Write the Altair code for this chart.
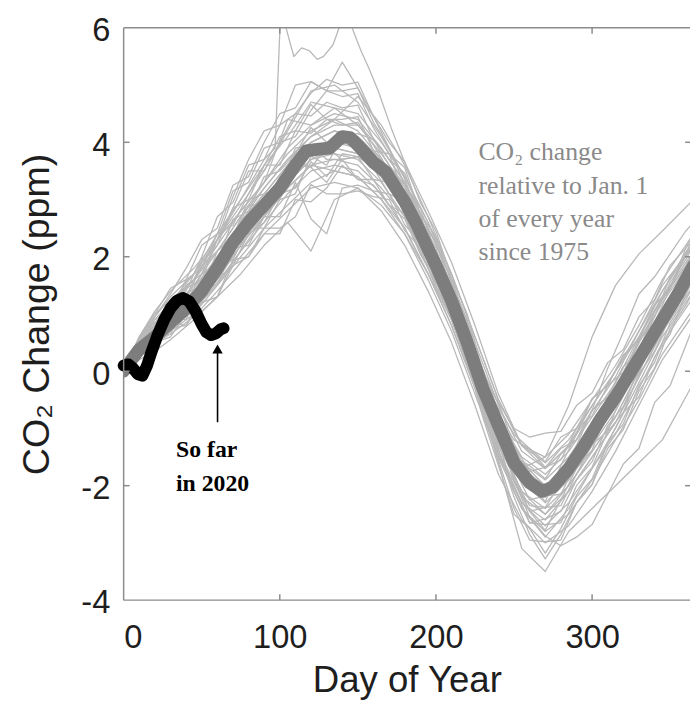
import altair as alt
import pandas as pd

# ---------------- data ----------------
# individual years, read every 15 days
days = [0, 10, 20, 30, 45, 60, 75, 90, 105, 120, 135, 150, 165, 180, 195,
        210, 225, 240, 255, 270, 285, 300, 315, 330, 345, 365]

g01 = [0, 0.55, 0.9, 1.2, 1.6, 2.2, 2.8, 3.3, 3.9, 4.3, 4.5, 4.4, 3.9, 3.3, 2.5, 1.6, 0.5, -0.6, -1.4, -1.7, -1.3, -0.7, -0.1, 0.7, 1.5, 2.2]
g02 = [0, 0.25, 0.45, 0.7, 1.0, 1.5, 2.0, 2.5, 2.9, 3.3, 3.5, 3.4, 3.0, 2.4, 1.6, 0.7, -0.4, -1.5, -2.3, -2.7, -2.3, -1.7, -1.1, -0.3, 0.5, 1.3]
g03 = [0, 0.6, 1.05, 1.4, 1.8, 2.3, 2.8, 3.3, 3.8, 4.2, 4.4, 4.2, 3.7, 3.1, 2.3, 1.4, 0.3, -0.8, -1.6, -1.9, -1.5, -0.9, -0.3, 0.5, 1.2, 2.0]
g04 = [0, 0.3, 0.5, 0.65, 0.95, 1.4, 1.9, 2.4, 2.8, 3.2, 3.3, 3.2, 2.8, 2.2, 1.4, 0.5, -0.6, -1.8, -2.6, -3.0, -2.7, -2.1, -1.4, -0.6, 0.2, 1.0]
g05 = [0, 0.45, 0.8, 1.15, 1.6, 2.3, 2.9, 3.5, 4.2, 4.9, 5.0, 4.7, 4.1, 3.4, 2.6, 1.7, 0.6, -0.5, -1.3, -1.6, -1.2, -0.6, 0.0, 0.7, 1.4, 2.2]
g06 = [0, 0.35, 0.6, 0.85, 1.2, 1.7, 2.3, 2.7, 3.2, 3.6, 3.7, 3.6, 3.2, 2.7, 1.9, 1.0, -0.1, -1.3, -2.1, -2.4, -2.0, -1.4, -0.8, 0.0, 0.8, 1.6]
g07 = [0, 0.5, 0.75, 1.0, 1.35, 1.9, 2.6, 3.1, 3.6, 4.0, 4.2, 4.1, 3.7, 3.1, 2.3, 1.3, 0.2, -0.9, -1.7, -2.0, -1.6, -1.0, -0.4, 0.4, 1.1, 1.9]
g08 = [0, 0.2, 0.35, 0.55, 0.9, 1.3, 1.7, 2.2, 2.6, 2.1, 3.0, 3.2, 2.9, 2.4, 1.7, 0.8, -0.3, -1.5, -2.4, -2.8, -2.5, -1.9, -1.2, -0.5, 0.3, 1.1]
g09 = [0, 0.45, 0.7, 0.95, 1.3, 1.85, 2.5, 3.0, 3.5, 3.9, 4.05, 3.9, 3.4, 2.8, 1.9, 1.0, -0.2, -1.6, -3.1, -3.5, -2.8, -2.4, -2.0, -1.6, -1.2, -0.2]
g10 = [0, 0.4, 0.6, 0.8, 1.1, 1.6, 2.2, 2.7, 3.3, 3.8, 3.9, 3.8, 3.4, 2.8, 2.0, 1.1, 0.0, -1.1, -1.9, -2.2, -1.9, -1.3, -0.7, 0.1, 0.9, 1.7]
g11 = [0, 0.5, 0.85, 1.1, 1.45, 2.0, 2.6, 3.1, 3.6, 4.0, 4.2, 4.0, 3.5, 2.9, 2.0, 1.1, 0.0, -1.0, -1.7, -1.5, -0.6, 0.6, 1.5, 2.05, 2.45, 3.0]
g12 = [0, 0.3, 0.55, 0.8, 1.15, 1.65, 2.2, 2.8, 3.3, 3.7, 3.8, 3.7, 3.3, 2.7, 1.8, 0.9, -0.2, -1.4, -2.3, -2.6, -2.1, -1.5, -0.9, -0.1, 0.7, 1.5]
g13 = [0, 0.55, 0.95, 1.3, 1.7, 2.4, 3.0, 3.6, 4.1, 4.7, 4.6, 4.3, 3.8, 3.2, 2.4, 1.4, 0.3, -0.8, -1.5, -1.8, -1.4, -0.8, -0.2, 0.6, 1.4, 2.3]
g14 = [0, 0.35, 0.5, 0.75, 1.05, 1.55, 2.1, 2.6, 3.1, 3.5, 3.6, 3.5, 3.1, 2.5, 1.7, 0.8, -0.3, -1.5, -2.4, -2.9, -2.4, -1.7, -1.0, -0.2, 0.6, 1.4]
g15 = [0, 0.45, 0.75, 1.0, 1.4, 2.0, 2.6, 3.2, 3.7, 4.1, 4.3, 4.3, 3.9, 3.3, 2.4, 1.4, 0.3, -0.9, -1.8, -2.2, -1.8, -1.2, -0.5, 0.3, 1.1, 2.0]
g16 = [0, 0.4, 0.65, 0.85, 1.2, 1.75, 2.35, 2.9, 3.4, 3.9, 4.0, 3.9, 3.5, 3.0, 2.2, 1.3, 0.2, -1.0, -1.9, -2.3, -1.9, -1.2, -0.6, 0.2, 1.0, 1.8]
g17 = [0, 0.6, 1.0, 1.25, 1.6, 2.1, 2.7, 3.2, 3.7, 4.1, 4.4, 4.8, 4.3, 3.6, 2.7, 1.7, 0.6, -0.5, -1.3, -1.5, -1.1, -0.5, 0.1, 0.8, 1.6, 2.4]
g18 = [0, 0.25, 0.5, 0.8, 1.1, 1.5, 2.1, 2.7, 3.2, 3.6, 3.5, 3.4, 3.0, 2.5, 1.7, 0.9, -0.2, -1.4, -2.2, -2.5, -2.0, -1.4, -0.8, 0.0, 0.8, 1.6]
g19 = [0, 0.5, 0.8, 1.05, 1.5, 2.1, 2.7, 3.3, 4.4, 4.3, 4.6, 4.5, 4.0, 3.4, 2.6, 1.6, 0.4, -0.7, -1.6, -2.0, -1.6, -1.0, -0.3, 0.5, 1.3, 2.1]
g20 = [0, 0.35, 0.55, 0.8, 1.15, 1.7, 2.3, 2.8, 3.3, 3.7, 3.9, 3.8, 3.4, 2.8, 1.9, 0.9, -0.2, -1.3, -2.1, -2.5, -2.1, -1.5, -0.9, -0.1, 0.7, 1.6]

# individual years, read every 10 days
days10 = [0, 10, 20, 30, 40, 50, 60, 70, 80, 90, 100, 110, 120, 130, 140, 150, 160, 170,
          180, 190, 200, 210, 220, 230, 240, 250, 260, 270, 280, 290, 300, 310, 320, 330,
          340, 350, 360, 365]

h01 = [0, 0.48, 0.9, 1.05, 1.6, 1.8, 2.4, 2.55, 3.1, 3.6, 3.6, 4.2, 4.16, 4.4, 4.3, 4.35, 3.95, 3.5, 3.26, 2.65, 2.25, 1.43, 0.8, -0.2, -0.65, -1.1, -1.35, -1.68, -1.35, -1.2, -0.68, -0.45, 0.08, 0.35, 0.95, 1.55, 1.95, 2.2]
h02 = [0, 0.28, 0.4, 0.75, 0.8, 1.2, 1.3, 1.85, 2.0, 2.4, 2.4, 3.0, 2.96, 3.2, 3.6, 3.35, 3.25, 2.9, 2.66, 2.05, 1.65, 0.93, 0.1, -0.6, -1.45, -2.0, -2.65, -2.68, -2.65, -2.0, -1.68, -1.05, -0.72, -0.05, 0.35, 0.95, 1.35, 1.6]
h03 = [0, 0.58, 1.0, 1.45, 1.6, 2.2, 2.4, 3.15, 3.3, 3.9, 4.0, 4.5, 4.46, 4.7, 4.6, 4.65, 4.05, 3.7, 3.46, 2.75, 2.25, 1.43, 0.6, -0.1, -0.55, -1.3, -1.75, -1.68, -1.55, -1.0, -0.78, -0.25, -0.02, 0.55, 0.85, 1.45, 2.05, 2.2]
h04 = [0, 0.38, 0.5, 0.95, 0.9, 1.5, 1.5, 2.15, 2.2, 2.7, 2.7, 3.3, 2.66, 2.4, 3.2, 3.25, 3.15, 3.1, 2.56, 2.25, 1.55, 1.13, 0.3, -0.7, -1.55, -2.4, -2.95, -2.98, -2.95, -2.3, -1.98, -1.25, -0.92, -0.25, 0.15, 0.85, 1.25, 1.5]
h05 = [0, 0.48, 0.8, 1.25, 1.4, 2.0, 2.7, 2.95, 3.6, 3.7, 4.3, 4.5, 4.86, 5.1, 5.0, 5.05, 4.45, 4.0, 3.66, 2.95, 2.45, 1.63, 1.0, 0.0, -0.75, -1.2, -1.35, -1.58, -1.15, -1.0, -0.48, -0.25, 0.28, 0.55, 1.15, 1.45, 2.05, 2.3]
h06 = [0, 0.33, 0.7, 0.75, 1.3, 1.4, 2.1, 2.35, 3.0, 3.1, 3.2, 3.9, 3.96, 3.7, 3.7, 3.75, 3.35, 3.3, 2.76, 2.45, 1.75, 1.33, 0.5, -0.5, -1.35, -2.2, -2.85, -3.28, -2.85, -2.3, -1.98, -1.35, -1.02, -0.35, 0.05, 0.75, 1.15, 1.4]
h07 = [0, 0.53, 0.85, 0.95, 1.45, 1.6, 2.3, 2.85, 3.0, 3.6, 4.1, 4.2, 4.66, 4.4, 4.4, 4.45, 3.85, 3.8, 3.06, 2.75, 1.85, 1.43, 0.6, -0.3, -1.15, -1.9, -2.45, -2.38, -1.95, -1.3, -0.68, 0.05, 0.68, 1.35, 1.65, 2.05, 2.45, 2.6]
h08 = [0, 0.38, 0.45, 0.85, 0.8, 1.3, 1.6, 1.85, 2.4, 2.6, 3.1, 3.2, 3.66, 3.4, 3.8, 3.75, 3.75, 3.3, 3.16, 2.45, 2.05, 1.33, 0.8, -0.2, -1.05, -1.9, -2.55, -2.88, -3.05, -2.9, -2.68, -2.15, -1.62, -1.35, -0.55, -0.25, 0.45, 0.8]
h09 = [0, 0.48, 0.65, 1.1, 1.2, 1.7, 1.9, 2.65, 2.8, 3.4, 3.5, 3.8, 4.26, 4.0, 4.0, 4.05, 3.55, 3.5, 2.86, 2.55, 1.75, 1.23, 0.4, -0.2, -0.75, -1.5, -1.65, -1.88, -1.45, -1.2, -0.68, -0.45, 0.08, 0.35, 1.05, 1.45, 1.85, 2.1]
h10 = [0, 0.28, 0.6, 0.65, 1.2, 1.3, 2.0, 2.05, 2.7, 2.8, 3.4, 3.6, 3.56, 3.9, 3.7, 3.75, 3.55, 3.1, 2.96, 2.25, 1.95, 1.13, 0.5, -0.5, -1.05, -1.9, -2.35, -2.38, -2.35, -1.8, -1.28, -1.05, -0.32, -0.05, 0.75, 1.05, 1.65, 1.9]
h11 = [0, 0.58, 0.95, 1.35, 1.8, 2.3, 2.5, 3.25, 3.4, 4.0, 4.5, 4.6, 5.06, 4.9, 4.8, 4.85, 4.25, 3.8, 3.56, 2.75, 2.35, 1.53, 0.9, -0.1, -0.95, -1.8, -2.45, -2.78, -2.25, -1.7, -1.38, -0.65, -0.02, 0.35, 1.05, 1.45, 2.15, 2.3]
h12 = [0, 0.38, 0.75, 1.15, 1.25, 1.85, 2.1, 2.35, 2.9, 2.9, 3.0, 3.7, 3.56, 3.3, 3.7, 3.35, 3.35, 2.9, 2.76, 2.05, 1.55, 1.13, 0.3, -0.3, -0.85, -1.7, -1.95, -2.28, -1.65, -1.1, -0.48, -0.25, 0.28, 0.55, 1.15, 1.45, 2.05, 2.3]
h13 = [0, 0.48, 0.8, 0.95, 1.5, 1.7, 2.3, 3.05, 3.7, 4.2, 4.3, 5.0, 5.06, 4.9, 4.9, 4.95, 4.35, 3.9, 3.36, 2.65, 2.15, 1.33, 0.7, -0.3, -1.15, -1.7, -2.25, -2.18, -2.15, -1.6, -1.08, -0.45, -0.12, 0.55, 0.95, 1.65, 2.05, 2.3]
h14 = [0, 0.33, 0.5, 0.6, 1.0, 1.05, 1.3, 1.95, 2.0, 2.5, 2.5, 2.7, 3.26, 3.1, 3.1, 3.15, 3.05, 3.0, 2.46, 2.15, 1.45, 1.03, 0.2, -0.8, -1.65, -2.5, -2.75, -3.18, -2.75, -2.2, -1.88, -1.25, -0.72, -0.45, 0.25, 0.65, 1.35, 1.6]
h15 = [0, 0.43, 0.7, 1.15, 1.3, 1.9, 2.2, 2.85, 3.5, 3.5, 4.0, 4.1, 4.56, 4.9, 5.4, 4.95, 4.45, 3.9, 3.26, 2.85, 2.05, 1.53, 0.6, 0.0, -0.55, -1.0, -1.15, -1.08, -1.05, -0.6, -0.38, 0.15, 0.38, 0.95, 1.25, 1.85, 2.15, 2.4]
h16 = [0, 0.33, 0.65, 0.7, 1.15, 1.2, 1.8, 1.95, 2.5, 2.5, 3.0, 3.1, 3.76, 3.6, 4.1, 4.15, 4.05, 3.6, 3.26, 2.55, 2.05, 1.23, 0.6, -0.4, -1.25, -2.1, -2.65, -2.58, -2.45, -1.9, -1.58, -0.95, -0.62, 0.05, 0.45, 1.15, 1.55, 1.8]

# one extreme year that leaves the top of the frame
out_days = [0, 10, 20, 30, 45, 60, 75, 90, 97, 101, 104, 109, 114, 119, 124, 128,
            134, 138, 142, 147, 152, 157, 163, 172, 180, 195, 210, 225, 240, 255,
            270, 285, 300, 315, 330, 345, 365]
out_vals = [0, 0.5, 0.8, 1.2, 1.7, 2.3, 3.0, 3.7, 3.9, 6.6, 6.0, 5.5, 5.65, 5.6, 5.45, 5.5,
            5.7, 6.0, 6.4, 5.95, 5.6, 5.3, 4.9, 4.2, 3.65, 2.8, 1.9, 0.8, -0.4, -1.3,
            -1.7, -1.3, -0.6, 0.0, 0.6, 1.3, 2.0]

mean_days = [0, 5, 10, 20, 30, 40, 50, 60, 70, 80, 90, 100, 110, 117, 125, 132, 140,
             145, 150, 160, 168, 180, 187, 200, 210, 220, 230, 240, 250, 260, 268,
             275, 285, 295, 305, 315, 325, 335, 345, 355, 365]
mean_vals = [0, 0.2, 0.38, 0.6, 0.85, 1.1, 1.4, 1.8, 2.25, 2.6, 2.9, 3.2, 3.6, 3.85, 3.88,
             3.9, 4.1, 4.08, 3.95, 3.65, 3.48, 2.96, 2.6, 1.85, 1.23, 0.5, -0.3, -0.95,
             -1.6, -1.95, -2.1, -2.02, -1.7, -1.3, -0.85, -0.45, 0.0, 0.45, 0.9, 1.35, 1.85]

days_2020 = [0, 3, 6, 9, 12, 15, 18, 22, 26, 30, 34, 38, 42, 46, 50, 53, 56, 59, 62, 64]
vals_2020 = [0.1, 0.12, 0.05, -0.05, -0.08, 0.1, 0.35, 0.65, 0.9, 1.1, 1.23, 1.28, 1.22,
             1.05, 0.82, 0.68, 0.63, 0.66, 0.73, 0.75]

x_ticks = [0, 100, 200, 300]
y_ticks = [-4, -2, 0, 2, 4, 6]
inner_x_ticks = [100, 200, 300]
inner_y_ticks = [-2, 0, 2, 4]

note_lines = ["CO\u2082 change", "relative to Jan. 1", "of  every year", "since 1975"]
arrow_lines = ["So far", "in 2020"]

# ---------------- tables ----------------
rows = []
for i, vals in enumerate([g01, g02, g03, g04, g05, g06, g07, g08, g09, g10,
                          g11, g12, g13, g14, g15, g16, g17, g18, g19, g20]):
    for d, v in zip(days, vals):
        rows.append({"day": d, "val": v, "yr": f"g{i}"})
for i, vals in enumerate([h01, h02, h03, h04, h05, h06, h07, h08, h09, h10,
                          h11, h12, h13, h14, h15, h16]):
    for d, v in zip(days10, vals):
        rows.append({"day": d, "val": v, "yr": f"h{i}"})
for d, v in zip(out_days, out_vals):
    rows.append({"day": d, "val": v, "yr": "out"})
gray_df = pd.DataFrame(rows)
mean_df = pd.DataFrame({"day": mean_days, "val": mean_vals})
df2020 = pd.DataFrame({"day": days_2020, "val": vals_2020})
xt_df = pd.DataFrame({"day": inner_x_ticks})
yt_df = pd.DataFrame({"val": inner_y_ticks})

W, H = 573, 579
AXIS_GRAY = "#8c8c8c"
LABEL = "#1e1e1e"
SANS = "Liberation Sans"
SERIF = "Liberation Serif"

xscale = alt.Scale(domain=[0, 362.7], nice=False, zero=False)
yscale = alt.Scale(domain=[-4, 6], nice=False, zero=False)

x_enc = alt.X("day:Q", scale=xscale,
              axis=alt.Axis(values=x_ticks, title="Day of Year", grid=False, domain=False,
                            ticks=False, tickSize=0, labelPadding=22, labelFontSize=33,
                            labelExpr="datum.value + ''",
                            labelFont=SANS, labelColor=LABEL, titleFont=SANS,
                            titleFontSize=37, titleFontWeight="normal", titleColor=LABEL,
                            titleBaseline="alphabetic", titleY=92, titleX=W / 2,
                            titleAlign="center"))
y_enc = alt.Y("val:Q", scale=yscale,
              axis=alt.Axis(values=y_ticks, title="CO\u2082 Change (ppm)", grid=False,
                            domain=False, ticks=False, tickSize=0, labelPadding=14,
                            labelExpr="datum.value + ''",
                            labelFontSize=33, labelFont=SANS, labelColor=LABEL,
                            labelOffset=3, titleFont=SANS, titleFontSize=38,
                            titleFontWeight="normal", titleColor=LABEL, titleAngle=270,
                            titleBaseline="alphabetic", titleX=-76, titleY=H / 2,
                            titleAlign="center"))

gray = alt.Chart(gray_df).mark_line(color="#b8b8b8", strokeWidth=1.3, clip=True,
                                    strokeJoin="round").encode(
    x=x_enc, y=y_enc, detail="yr:N", order="day:Q")

mean = alt.Chart(mean_df).mark_line(color="#7d7d7d", strokeWidth=13, strokeCap="round",
                                    strokeJoin="round", clip=True).encode(
    x=alt.X("day:Q", scale=xscale), y=alt.Y("val:Q", scale=yscale), order="day:Q")

line2020 = alt.Chart(df2020).mark_line(color="#000000", strokeWidth=12, strokeCap="round",
                                       strokeJoin="round").encode(
    x=alt.X("day:Q", scale=xscale), y=alt.Y("val:Q", scale=yscale), order="day:Q")

one = alt.Data(values=[{"a": 1}])
frame_style = dict(color=AXIS_GRAY, strokeWidth=1.5)
frame_left = alt.Chart(one).mark_rule(**frame_style).encode(
    x=alt.value(0), y=alt.value(0), y2=alt.value(H))
frame_top = alt.Chart(one).mark_rule(**frame_style).encode(
    x=alt.value(0), x2=alt.value(W), y=alt.value(0))
frame_bottom = alt.Chart(one).mark_rule(**frame_style).encode(
    x=alt.value(0), x2=alt.value(W), y=alt.value(H))

bottom_ticks = alt.Chart(xt_df).mark_rule(**frame_style).encode(
    x=alt.X("day:Q", scale=xscale), y=alt.value(H), y2=alt.value(H - 6))
top_ticks = alt.Chart(xt_df).mark_rule(**frame_style).encode(
    x=alt.X("day:Q", scale=xscale), y=alt.value(0), y2=alt.value(6))
left_ticks = alt.Chart(yt_df).mark_rule(**frame_style).encode(
    y=alt.Y("val:Q", scale=yscale), x=alt.value(0), x2=alt.value(6))
right_ticks = alt.Chart(yt_df).mark_rule(**frame_style).encode(
    y=alt.Y("val:Q", scale=yscale), x=alt.value(W - 5), x2=alt.value(W + 3))

arrow_shaft = alt.Chart(one).mark_rule(color="#000000", strokeWidth=1.6).encode(
    x=alt.value(95), y=alt.value(399), y2=alt.value(328))
arrow_head = alt.Chart(one).mark_point(shape="triangle-up", filled=True, color="#000000",
                                       size=110, opacity=1).encode(
    x=alt.value(95), y=alt.value(325))

note = alt.Chart(one).mark_text(align="left", baseline="alphabetic", font=SERIF,
                                fontSize=26, color="#8a8a8a", lineHeight=33.7,
                                text=note_lines).encode(
    x=alt.value(359), y=alt.value(134))
so_far = alt.Chart(one).mark_text(align="left", baseline="alphabetic", font=SERIF,
                                  fontSize=24, fontWeight="bold", color="#000000",
                                  lineHeight=35, text=arrow_lines).encode(
    x=alt.value(53), y=alt.value(434))

chart = alt.layer(gray, mean, line2020, frame_left, frame_top, frame_bottom,
                  bottom_ticks, top_ticks, left_ticks, right_ticks,
                  arrow_shaft, arrow_head, note, so_far).properties(
    width=W, height=H, autosize="none",
    padding={"left": 117, "top": 16, "right": 0, "bottom": 100},
    background="white",
).configure_view(stroke=None)

chart.save("out.html", embed_options={"renderer": "svg", "actions": False})
